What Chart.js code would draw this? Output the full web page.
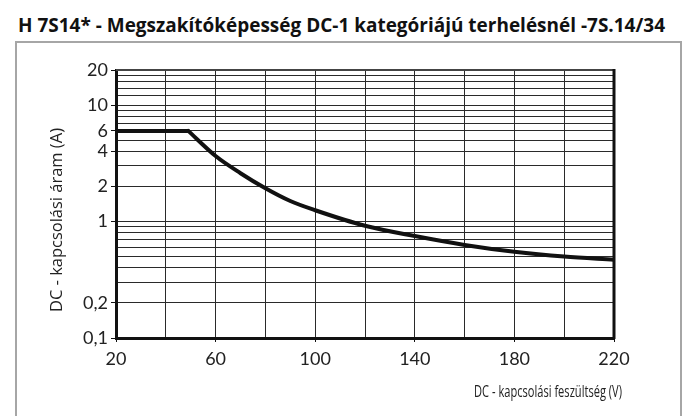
<!DOCTYPE html>
<html>
<head>
<meta charset="utf-8">
<script src="https://cdn.jsdelivr.net/npm/chart.js@4"></script>
<style>
    html, body { margin: 0; padding: 0; background: #fff; }
    #wrap { position: relative; width: 683px; height: 416px; overflow: hidden; }
    #title {
        position: absolute; left: 18px; top: 15px;
        font: bold 20px "Open Sans", "DejaVu Sans Condensed", sans-serif;
        line-height: 20px; white-space: nowrap; color: #111;
        transform-origin: 0 0;
    }
    #frame {
        position: absolute; left: 15px; top: 41px; width: 663px; height: 400px;
        border: 2px solid #a6a6a6;
    }
    canvas { position: absolute; left: 0; top: 0; }
</style>
</head>
<body>
<div id="wrap">
    <div id="title">H 7S14* - Megszakítóképesség DC-1 kategóriájú terhelésnél -7S.14/34</div>
    <div id="frame"></div>
    <canvas id="chart" width="683" height="416"></canvas>
</div>
<script>
// Flat part of the limit curve (6 A up to ~49 V)
const voltFlat = [20, 49];
const ampFlat = [6, 6];

// Falling part of the limit curve
const voltCurve = [49, 60, 70, 80, 90, 100, 120, 140, 160, 180, 200, 220];
const ampCurve = [6, 3.65, 2.6, 1.93, 1.5, 1.25, 0.92, 0.75, 0.63, 0.55, 0.5, 0.47];

// Axis ticks / grid
const yGrid = [0.1, 0.2, 0.3, 0.4, 0.5, 0.6, 0.7, 0.8, 0.9, 1, 2, 3, 4, 5, 6, 7, 8, 9, 10, 12, 14, 16, 18, 20];
const yLabels = { 0.1: '0,1', 0.2: '0,2', 1: '1', 2: '2', 4: '4', 6: '6', 10: '10', 20: '20' };
const xLabels = [20, 60, 100, 140, 180, 220];

const xTitle = 'DC - kapcsolási feszültség (V)';
const yTitle = 'DC - kapcsolási áram (A)';

// Squeeze the heading to the width it has in the original
const titleEl = document.getElementById('title');
titleEl.style.transform = `scaleX(${647 / titleEl.offsetWidth})`;

// Draw a string fitted into a given length
function fitText(ctx, text, x, y, len, rotate) {
    ctx.save();
    ctx.translate(x, y);
    if (rotate) ctx.rotate(-Math.PI / 2);
    ctx.scale(len / ctx.measureText(text).width, 1);
    ctx.fillText(text, 0, 0);
    ctx.restore();
}

// Top/right plot frame and the axis titles
const frame = {
    id: 'frame',
    beforeDatasetsDraw(chart) {
        const { ctx, chartArea: a } = chart;
        ctx.save();
        ctx.strokeStyle = '#444';
        ctx.lineWidth = 2;
        ctx.beginPath();
        ctx.moveTo(a.left, a.top);
        ctx.lineTo(a.right, a.top);
        ctx.stroke();
        ctx.strokeStyle = '#111';
        ctx.lineWidth = 3;
        ctx.beginPath();
        ctx.moveTo(a.right, a.top - 1);
        ctx.lineTo(a.right, a.bottom + 1);
        ctx.stroke();
        ctx.restore();
    },
    afterDraw(chart) {
        const ctx = chart.ctx;
        ctx.save();
        ctx.fillStyle = '#222';
        ctx.textBaseline = 'alphabetic';
        ctx.font = '17px "Open Sans", sans-serif';
        fitText(ctx, xTitle, 474, 397, 148, false);
        ctx.font = '17px "Open Sans", sans-serif';
        fitText(ctx, yTitle, 62, 312, 184, true);
        ctx.restore();
    }
};

const tickFont = { family: 'Lato, sans-serif', size: 18 };

new Chart(document.getElementById('chart'), {
    type: 'line',
    data: {
        datasets: [{
            data: voltFlat.map((v, i) => ({ x: v, y: ampFlat[i] })),
            borderColor: '#111',
            borderWidth: 4,
            borderCapStyle: 'round',
            pointRadius: 0,
            tension: 0
        }, {
            data: voltCurve.map((v, i) => ({ x: v, y: ampCurve[i] })),
            borderColor: '#111',
            borderWidth: 4,
            borderCapStyle: 'round',
            pointRadius: 0,
            cubicInterpolationMode: 'monotone'
        }]
    },
    options: {
        responsive: false,
        animation: false,
        devicePixelRatio: 1,
        layout: { padding: { top: 70, right: 69, left: 0, bottom: 0 } },
        plugins: {
            legend: { display: false },
            tooltip: { enabled: false }
        },
        scales: {
            x: {
                type: 'linear',
                min: 20,
                max: 220,
                afterFit: (s) => { s.height = 78; },
                border: { color: '#111', width: 3 },
                grid: {
                    color: '#2a2a2a',
                    lineWidth: 1,
                    tickLength: 4,
                    tickColor: (c) => (c.tick && xLabels.includes(c.tick.value)) ? '#111' : 'rgba(0,0,0,0)'
                },
                ticks: {
                    stepSize: 20,
                    autoSkip: false,
                    maxRotation: 0,
                    padding: 6,
                    color: '#222',
                    font: tickFont,
                    callback: (v) => xLabels.includes(v) ? String(v) : ''
                }
            },
            y: {
                type: 'logarithmic',
                min: 0.1,
                max: 20,
                afterFit: (s) => { s.width = 116; },
                afterBuildTicks: (s) => { s.ticks = yGrid.map(v => ({ value: v })); },
                border: { color: '#111', width: 3 },
                grid: {
                    color: '#2a2a2a',
                    lineWidth: 1,
                    tickLength: 5,
                    tickColor: (c) => (c.tick && yLabels[c.tick.value] !== undefined) ? '#111' : 'rgba(0,0,0,0)'
                },
                ticks: {
                    autoSkip: false,
                    padding: 3,
                    color: '#222',
                    font: tickFont,
                    callback: (v) => yLabels[v] ?? ''
                }
            }
        }
    },
    plugins: [frame]
});
</script>
</body>
</html>
